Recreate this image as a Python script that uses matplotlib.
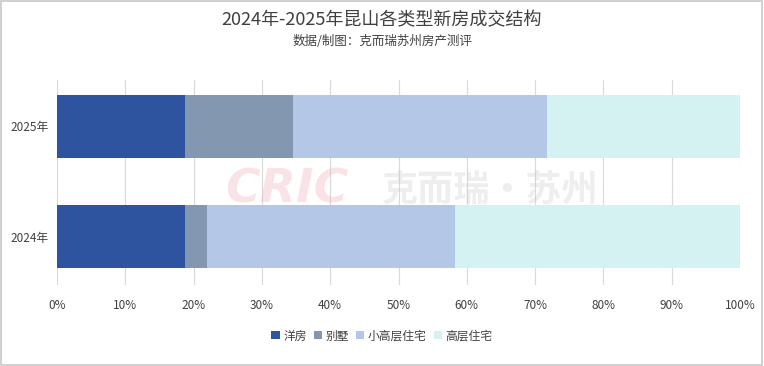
import numpy as np
import matplotlib
matplotlib.use('Agg')
from matplotlib import pyplot as plt
from matplotlib.ticker import PercentFormatter

plt.rcParams['font.family'] = ['Noto Sans CJK SC', 'DejaVu Sans']

years = ['2024年', '2025年']
series = ['洋房', '别墅', '小高层住宅', '高层住宅']
# share (%) per year
yangfang = [18.8, 18.8]
bieshu = [3.1, 15.7]
xiaogaoceng = [36.3, 37.3]
gaoceng = [41.8, 28.2]
colors = ['#2E54A0', '#8497B0', '#B4C7E7', '#D5F2F2']

fig = plt.figure(figsize=(7.64, 3.66), dpi=100)
ax = fig.add_axes([0.0746, 0.221, 0.894, 0.56])

y = np.arange(len(years))
left = np.zeros(len(years))
for name, vals, c in zip(series, [yangfang, bieshu, xiaogaoceng, gaoceng], colors):
    ax.barh(y, vals, left=left, height=0.57, color=c, label=name, zorder=2)
    left += np.array(vals)

ax.set_xlim(0, 100)
ax.set_ylim(-0.44, 1.42)
ax.set_xticks(np.arange(0, 101, 10))
ax.xaxis.set_major_formatter(PercentFormatter(decimals=0))
ax.set_yticks(y)
ax.set_yticklabels(years)
ax.grid(axis='x', color='#D9D9D9', linewidth=0.8, zorder=0)
for s in ax.spines.values():
    s.set_visible(False)
ax.tick_params(length=0, labelsize=8.5, colors='#404040')
ax.tick_params(axis='x', pad=10)
ax.tick_params(axis='y', pad=6)

fig.text(0.5, 0.945, '2024年-2025年昆山各类型新房成交结构', ha='center', va='center',
         fontsize=13, color='#404040')
fig.text(0.5, 0.888, '数据/制图：克而瑞苏州房产测评', ha='center', va='center',
         fontsize=9, color='#404040')

# faint watermark
fig.text(0.375, 0.48, 'CRIC', ha='center', va='center', fontsize=34, fontweight='heavy',
         fontstyle='italic', family='DejaVu Sans', color='#F2B0BA', alpha=0.35)
fig.text(0.64, 0.48, '克而瑞·苏州', ha='center', va='center', fontsize=26,
         fontweight='bold', color='#C8C8C8', alpha=0.3)

fig.legend(loc='center', bbox_to_anchor=(0.5, 0.082), ncol=4, frameon=False,
           fontsize=8.5, handlelength=0.7, handleheight=0.7, handletextpad=0.3,
           columnspacing=0.6, labelcolor='#404040')

fig.patches.append(plt.Rectangle((0.001, 0.002), 0.997, 0.995, transform=fig.transFigure,
                                 fill=False, edgecolor='#C8C8C8', linewidth=1.2))

plt.savefig('out.png', dpi=100)
